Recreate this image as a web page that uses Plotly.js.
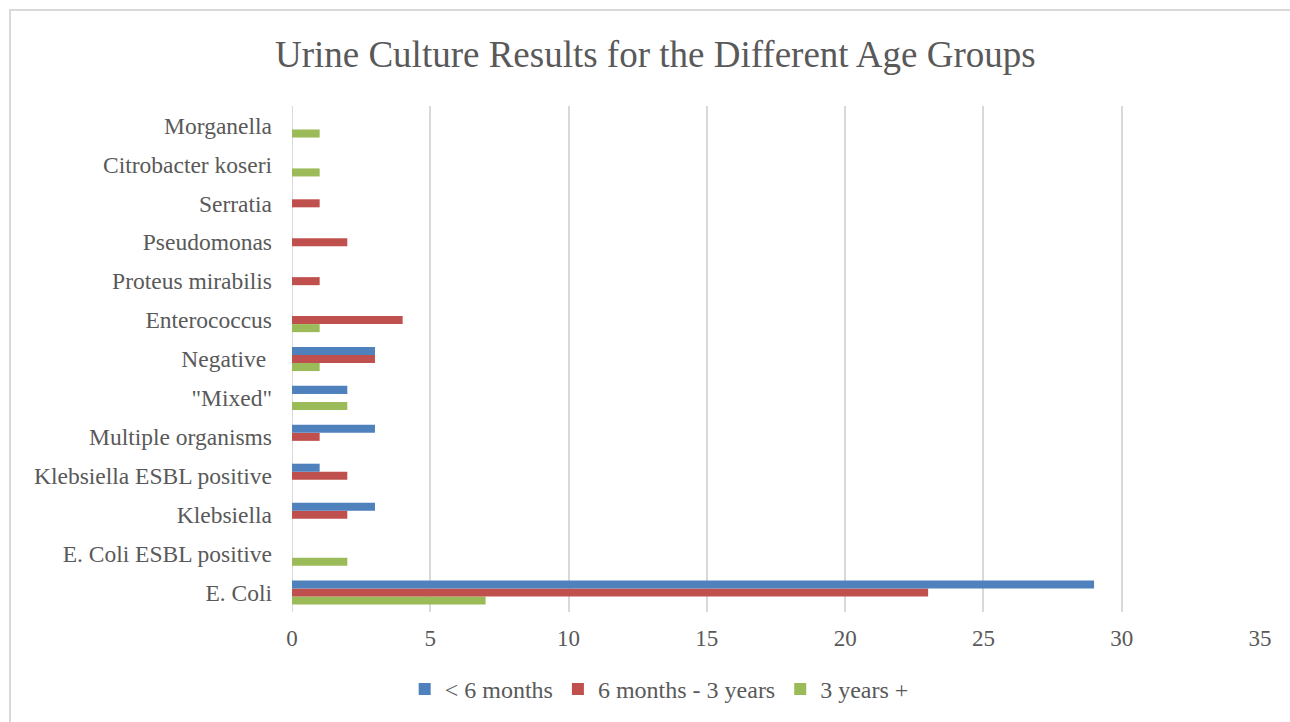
<!DOCTYPE html>
<html>
<head>
<meta charset="utf-8">
<script src="https://cdn.plot.ly/plotly-3.0.1.min.js"></script>
<style>
  html, body { margin: 0; padding: 0; background: #fff; overflow: hidden; }
  #frame { position: absolute; left: 9px; top: 9px; width: 1300px; height: 730px; border: 2px solid #d9d9d9; box-sizing: border-box; pointer-events: none; z-index: 5; }
  #chart { position: absolute; left: 0; top: 0; width: 1290px; height: 722px; }
</style>
</head>
<body>
<div id="chart"></div>
<div id="frame"></div>
<script>
const categories = ["E. Coli", "E. Coli ESBL positive", "Klebsiella", "Klebsiella ESBL positive",
  "Multiple organisms", "\"Mixed\"", "Negative ", "Enterococcus", "Proteus mirabilis",
  "Pseudomonas", "Serratia", "Citrobacter koseri", "Morganella"];
const under6Months = [29, 0, 3, 1, 3, 2, 3, 0, 0, 0, 0, 0, 0];
const sixMonthsTo3Years = [23, 0, 2, 2, 1, 0, 3, 4, 1, 2, 1, 0, 0];
const over3Years = [7, 2, 0, 0, 0, 2, 1, 1, 0, 0, 0, 1, 1];
const seriesNames = ["< 6 months", "6 months - 3 years", "3 years +"];
const seriesColors = ["#4f81bd", "#c0504d", "#9bbb59"];

const font = "'Liberation Serif', 'Times New Roman', serif";
const textColor = "#595959";

const seriesValues = [under6Months, sixMonthsTo3Years, over3Years];
const traces = [];
for (let i = seriesValues.length - 1; i >= 0; i--) {
  traces.push({
    type: "bar",
    orientation: "h",
    name: seriesNames[i],
    y: categories,
    x: seriesValues[i],
    marker: { color: seriesColors[i] },
    hoverinfo: "x+y+name"
  });
}

const layout = {
  width: 1290,
  height: 722,
  paper_bgcolor: "#ffffff",
  plot_bgcolor: "#ffffff",
  margin: { l: 292, r: 30, t: 106, b: 110 },
  barmode: "group",
  bargap: 0.38,
  bargroupgap: 0,
  title: {
    text: "Urine Culture Results for the Different Age Groups",
    font: { family: font, size: 37, color: textColor },
    x: 0.508, xref: "container", xanchor: "center",
    y: 0.925, yref: "container", yanchor: "middle"
  },
  xaxis: {
    range: [0, 35],
    dtick: 5,
    tick0: 0,
    showgrid: true,
    gridcolor: "#d9d9d9",
    gridwidth: 1.5,
    zeroline: false,
    showline: false,
    ticks: "",
    ticklabelstandoff: 10,
    tickfont: { family: font, size: 23, color: textColor },
    fixedrange: true
  },
  yaxis: {
    type: "category",
    categoryorder: "array",
    categoryarray: categories,
    showgrid: false,
    zeroline: false,
    showline: false,
    ticks: "",
    ticklabelstandoff: 19,
    tickfont: { family: font, size: 23.5, color: textColor },
    fixedrange: true
  },
  shapes: [{
    type: "line", xref: "x", yref: "paper", x0: 0, x1: 0, y0: 0, y1: 1,
    line: { color: "#d9d9d9", width: 2 }, layer: "below"
  }],
  legend: {
    orientation: "h",
    traceorder: "reversed",
    x: 0.511, xref: "container", xanchor: "center",
    y: 0.045, yref: "container", yanchor: "middle",
    font: { family: font, size: 24, color: textColor },
    itemwidth: 30,
    itemclick: false
  },
  showlegend: true
};

Plotly.newPlot("chart", traces, layout, { displayModeBar: false });
</script>
</body>
</html>
